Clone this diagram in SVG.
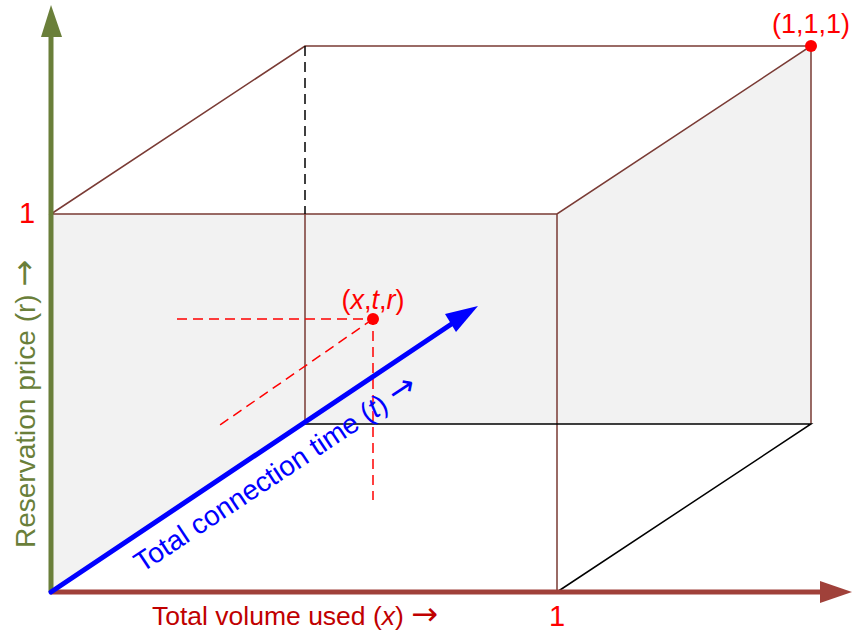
<svg xmlns="http://www.w3.org/2000/svg" width="854" height="634" viewBox="0 0 854 634">
<style>
.edge{stroke:#7a3b35;stroke-width:1.5;fill:none}
.blk{stroke:#000;stroke-width:1.5;fill:none}
.dash{stroke:#000;stroke-width:1.5;stroke-dasharray:10 6;fill:none}
.rdash{stroke:#ff0000;stroke-width:1.5;stroke-dasharray:10 6;fill:none}
.lbl{font-family:"Liberation Sans",Arial,sans-serif;font-size:28px}
.hz{font-size:26.5px}
.pt{font-size:27px}
.one{font-size:29px}
.arr{font-family:"DejaVu Sans",sans-serif;font-size:32px}
.red{fill:#ff0000}
</style>
<rect width="854" height="634" fill="#fff"/>
<g id="cube">
<polygon points="51,214 557,214 811,46 811,424 305,424 51,592" fill="#f2f2f2"/>
<path class="edge" d="M51,214 L305,46 L811,46 L557,214 Z M557,214 V592 M811,46 V424 M305,214 V424"/>
<path class="dash" d="M305,46 V214"/>
<path class="blk" d="M305,424 H811 L557,592"/>
</g>
<g id="point">
<path class="rdash" d="M177,319 H373 V500 M373,319 L220,425"/>
<circle cx="373" cy="319" r="6" fill="#ff0000"/>
<text class="lbl pt red" x="373" y="309" text-anchor="middle">(<tspan font-style="italic">x</tspan>,<tspan font-style="italic">t</tspan>,<tspan font-style="italic">r</tspan>)</text>
</g>
<g id="corner">
<circle cx="811" cy="46" r="6" fill="#ff0000"/>
<text class="lbl pt red" x="811" y="33" text-anchor="middle">(1,1,1)</text>
</g>
<g id="connectors">
<line x1="51" y1="592" x2="51" y2="36" stroke="#6a7f3a" stroke-width="5"/>
<polygon points="51,5 41,37 62,37" fill="#6a7f3a"/>
<line x1="51" y1="592" x2="822" y2="592" stroke="#a0413a" stroke-width="5"/>
<polygon points="852,592 820,581 820,603" fill="#a0413a"/>
<line x1="51" y1="592" x2="456" y2="321" stroke="#0000ff" stroke-width="5" stroke-linecap="round"/>
<polygon points="478,306 445,314 456,332" fill="#0000ff"/>
</g>
<g id="labels">
<text class="lbl one red" x="27" y="223" text-anchor="middle">1</text>
<text class="lbl one red" x="557" y="626" text-anchor="middle">1</text>
<text class="lbl hz" x="152" y="625" fill="#c00000">Total volume used (<tspan font-style="italic">x</tspan>) <tspan class="arr">→</tspan></text>
<text class="lbl" transform="translate(35,548) rotate(-90)" fill="#6a7f3a">Reservation price (r) <tspan class="arr">→</tspan></text>
<text class="lbl" transform="translate(142,573) rotate(-33.5)" fill="#0000ff">Total connection time (<tspan font-style="italic">t</tspan>) <tspan class="arr">→</tspan></text>
</g>
</svg>
